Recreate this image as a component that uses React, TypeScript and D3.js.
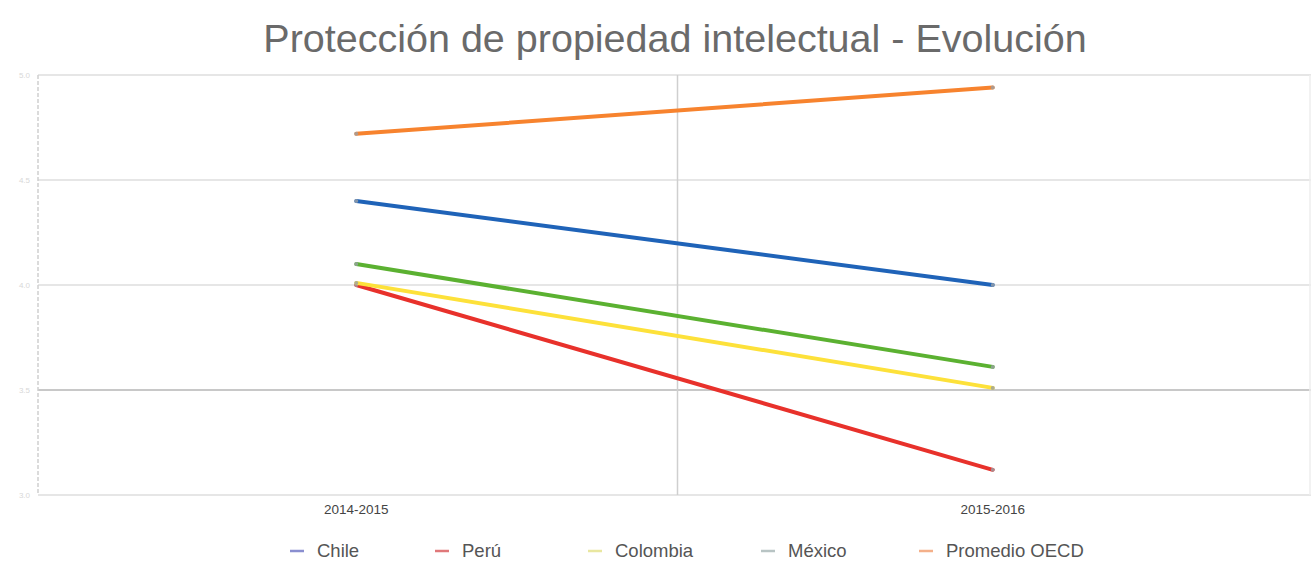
import React from "react";
import * as d3 from "d3";

const categories = ["2014-2015", "2015-2016"];
const seriesNames = ["Chile", "Perú", "Colombia", "México", "Promedio OECD"];
const chileValues = [4.4, 4.0];
const peruValues = [4.0, 3.12];
const colombiaValues = [4.01, 3.51];
const mexicoValues = [4.1, 3.61];
const oecdValues = [4.72, 4.94];
const yTicks = [3, 3.5, 4, 4.5, 5];

const lineColors = ["#1f63b8", "#e8312b", "#fde13a", "#5bb131", "#f7832e"];
const legendColors = ["#8a8fd0", "#e0787a", "#e9e7a0", "#b8c4c4", "#f4b08a"];

const W = 1311;
const H = 565;
const M = { left: 38, right: 0, top: 75, bottom: 70 };

export default function App() {
  const series = [chileValues, peruValues, colombiaValues, mexicoValues, oecdValues];
  const x = d3.scaleBand<string>().domain(categories).range([M.left, W - M.right]).padding(0);
  const y = d3.scaleLinear().domain([3, 5]).range([H - M.bottom, M.top]);
  const cx = (c: string) => (x(c) ?? 0) + x.bandwidth() / 2;
  const line = d3
    .line<number>()
    .x((_, i) => cx(categories[i]))
    .y((d) => y(d));

  const legendX = [290, 435, 588, 761, 919];

  return (
    <svg
      width={W}
      height={H}
      style={{ position: "absolute", left: 0, top: 0, background: "#fff" }}
      fontFamily="'Liberation Sans', Arial, sans-serif"
    >
      <rect x={0} y={0} width={W} height={H} fill="#fff" />
      <text x={675} y={52} textAnchor="middle" fontSize={39.5} fill="#6a6a6a">
        Protección de propiedad intelectual - Evolución
      </text>
      {yTicks.map((t) => (
        <g key={t}>
          <line
            x1={M.left}
            x2={W}
            y1={y(t)}
            y2={y(t)}
            stroke={t === 3.5 ? "#c8c8c8" : "#e6e6e6"}
            strokeWidth={2}
          />
          <text x={30} y={y(t) + 3} textAnchor="end" fontSize={8} fill="#d8d8d8">
            {t.toFixed(1)}
          </text>
        </g>
      ))}
      <line x1={M.left} x2={M.left} y1={M.top} y2={H - M.bottom} stroke="#d0d0d0" strokeWidth={1.5} strokeDasharray="4 2" />
      {categories.slice(1).map((c) => (
        <line key={c} x1={(x(c) ?? 0) + 3} x2={(x(c) ?? 0) + 3} y1={M.top} y2={H - M.bottom} stroke="#cfcfcf" strokeWidth={1.5} />
      ))}
      <line x1={W - 1} x2={W - 1} y1={M.top} y2={H - M.bottom} stroke="#eeeeee" strokeWidth={1.5} />
      {categories.map((c) => (
        <text key={c} x={cx(c)} y={514} textAnchor="middle" fontSize={13.5} fill="#444">
          {c}
        </text>
      ))}
      {series.map((vals, i) => (
        <g key={seriesNames[i]}>
          <path d={line(vals) ?? ""} fill="none" stroke={lineColors[i]} strokeWidth={4} strokeLinecap="round" />
          {vals.map((v, j) => (
            <circle key={j} cx={cx(categories[j])} cy={y(v)} r={2} fill="#9aa0a6" opacity={0.8} />
          ))}
        </g>
      ))}
      {seriesNames.map((n, i) => (
        <g key={n}>
          <line x1={legendX[i]} x2={legendX[i] + 14} y1={551} y2={551} stroke={legendColors[i]} strokeWidth={2.5} />
          <text x={legendX[i] + 27} y={557} fontSize={18.5} fill="#555">
            {n}
          </text>
        </g>
      ))}
    </svg>
  );
}
